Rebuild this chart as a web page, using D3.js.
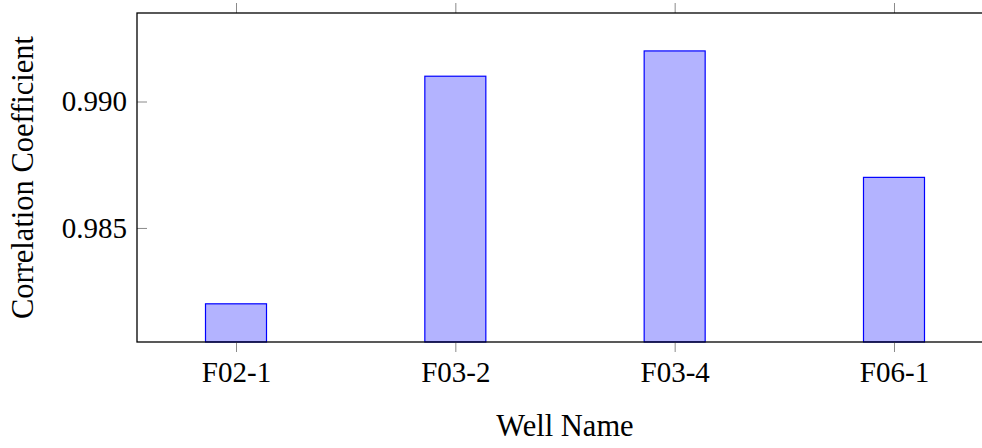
<!DOCTYPE html>
<html>
<head>
<meta charset="utf-8">
<script src="https://cdn.jsdelivr.net/npm/d3@7"></script>
<style>
  html, body { margin: 0; padding: 0; background: #fff; }
  svg { display: block; }
  text { font-family: "Liberation Serif", "DejaVu Serif", serif; fill: #000; }
</style>
</head>
<body>
<svg id="chart" width="982" height="448"></svg>
<script>
// Correlation coefficient per well
const wells = ["F02-1", "F03-2", "F03-4", "F06-1"];
const coefficients = [0.982, 0.991, 0.992, 0.987];
const yTicks = [0.985, 0.990];
const yDomain = [0.98049, 0.9935];

const svg = d3.select("#chart");
const plot = { left: 137, right: 993, top: 13, bottom: 342 };

const x = d3.scalePoint()
  .domain(wells)
  .range([plot.left, plot.right])
  .padding(0.4514);

const y = d3.scaleLinear()
  .domain(yDomain)
  .range([plot.bottom, plot.top]);

const barWidth = 61;
const tickColor = "#8a8a8a";

// bars
svg.append("g")
  .selectAll("rect")
  .data(wells.map((w, i) => ({ w, v: coefficients[i] })))
  .join("rect")
  .attr("x", d => x(d.w) - barWidth / 2)
  .attr("y", d => y(d.v))
  .attr("width", barWidth)
  .attr("height", d => plot.bottom - y(d.v))
  .attr("fill", "#b3b3ff")
  .attr("stroke", "#0000ff")
  .attr("stroke-width", 1.2);

// x ticks (outside, bottom and top)
const gxb = svg.append("g")
  .attr("transform", `translate(0,${plot.bottom})`)
  .call(d3.axisBottom(x).tickSize(10));
gxb.select(".domain").remove();
gxb.selectAll(".tick line").attr("stroke", tickColor);
gxb.selectAll(".tick text")
  .attr("font-size", 29)
  .attr("font-family", "Liberation Serif, serif")
  .attr("dy", null)
  .attr("y", 40);

const gxt = svg.append("g")
  .attr("transform", `translate(0,${plot.top})`)
  .call(d3.axisTop(x).tickSize(10).tickFormat(""));
gxt.select(".domain").remove();
gxt.selectAll(".tick line").attr("stroke", tickColor);

// y ticks (inside, left)
const gy = svg.append("g")
  .attr("transform", `translate(${plot.left},0)`)
  .call(d3.axisLeft(y).tickValues(yTicks).tickFormat(d3.format(".3f")).tickSize(0).tickPadding(10));
gy.select(".domain").remove();
gy.selectAll(".tick text")
  .attr("font-size", 29)
  .attr("font-family", "Liberation Serif, serif")
  .attr("dy", "0.32em");
gy.selectAll(".tick").append("line")
  .attr("x1", 0).attr("x2", 10)
  .attr("stroke", tickColor);

// frame
svg.append("rect")
  .attr("x", plot.left)
  .attr("y", plot.top)
  .attr("width", plot.right - plot.left)
  .attr("height", plot.bottom - plot.top)
  .attr("fill", "none")
  .attr("stroke", "#000")
  .attr("stroke-width", 1.3);

// axis titles
svg.append("text")
  .attr("x", (plot.left + plot.right) / 2)
  .attr("y", 436)
  .attr("text-anchor", "middle")
  .attr("font-size", 30.5)
  .text("Well Name");

svg.append("text")
  .attr("transform", `translate(33,${(plot.top + plot.bottom) / 2}) rotate(-90)`)
  .attr("text-anchor", "middle")
  .attr("font-size", 30.5)
  .text("Correlation Coefficient");
</script>
</body>
</html>
